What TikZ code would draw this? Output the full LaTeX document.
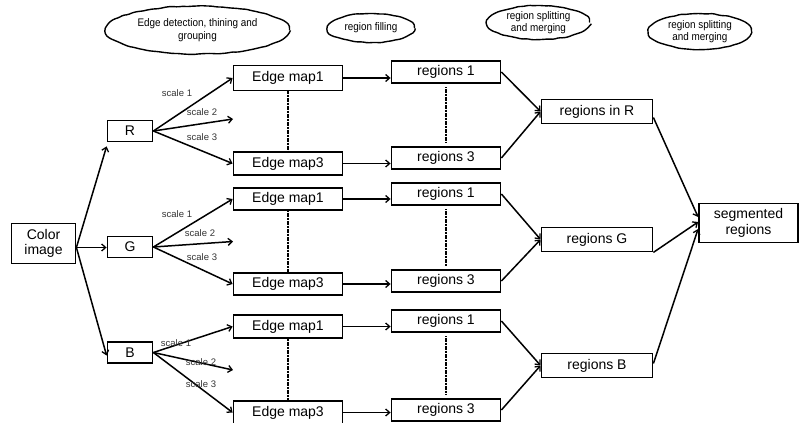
\documentclass[tikz,border=0pt]{standalone}
\usepackage{fontspec}
\setmainfont{Liberation Sans}
\newfontfamily\narrowfont[FakeStretch=0.9]{Liberation Sans}
\usetikzlibrary{arrows.meta,shapes.geometric,decorations.pathmorphing}
\pgfmathsetseed{7}
\begin{document}
\begin{tikzpicture}[x=1pt,y=-1pt,
  box/.style={draw,line width=1.8pt,inner sep=0pt,align=center,
    font=\fontsize{14}{15.5}\selectfont,minimum height=22.5pt},
  wbox/.style={box,minimum width=109pt},
  sbox/.style={box,minimum width=45pt,minimum height=21pt},
  cloudnode/.style={ellipse,draw,line width=1.4pt,inner sep=0pt,align=center,
    font=\narrowfont\fontsize{11}{12.5}\selectfont,
    decorate,decoration={random steps,segment length=5pt,amplitude=0.5pt},rounded corners=1.5pt},
  lab/.style={font=\fontsize{9.5}{10}\selectfont,text=black!80,inner sep=0pt},
  arr/.style={line width=1.5pt,-{Straight Barb[length=4pt,width=7pt,line width=1.3pt]}},
  dots/.style={line width=1.5pt,dash pattern=on 1.2pt off 0.4pt}
]
\useasboundingbox (0,0) rectangle (801,423);

% clouds
\node[cloudnode,minimum width=184pt,minimum height=48pt] (c1) at (197.5,30) {Edge detection, thining and\\grouping};
\node[cloudnode,minimum width=87pt,minimum height=29pt] (c2) at (371,28) {region filling};
\node[cloudnode,minimum width=102pt,minimum height=34pt] (c3) at (538.5,22.5) {region splitting\\and merging};
\node[cloudnode,minimum width=103pt,minimum height=36pt] (c4) at (700,31.5) {region splitting\\and merging};

% input
\node[box,minimum width=64pt,minimum height=40pt] (ci) at (43.5,243.5) {Color\\image};
\node[sbox] (R) at (130,131) {R};
\node[sbox] (G) at (130,247) {G};
\node[sbox] (B) at (130,352.5) {B};

% edge maps
\node[wbox,minimum height=25pt] (e1R) at (288,78) {Edge map1};
\node[wbox] (e3R) at (288,163.5) {Edge map3};
\node[wbox] (e1G) at (288,199) {Edge map1};
\node[wbox] (e3G) at (288,284) {Edge map3};
\node[wbox] (e1B) at (288,326.5) {Edge map1};
\node[wbox] (e3B) at (288,412.5) {Edge map3};

% regions
\node[wbox] (r1R) at (446,72) {regions 1};
\node[wbox] (r3R) at (446,158) {regions 3};
\node[wbox] (r1G) at (446,194) {regions 1};
\node[wbox] (r3G) at (446,281) {regions 3};
\node[wbox] (r1B) at (446,321) {regions 1};
\node[wbox] (r3B) at (446,410) {regions 3};

% merged
\node[box,minimum width=111pt,minimum height=24pt] (mR) at (597,111.5) {regions in R};
\node[box,minimum width=111pt,minimum height=24pt] (mG) at (597,239.5) {regions G};
\node[box,minimum width=111pt,minimum height=24pt] (mB) at (597,365.5) {regions B};
\node[box,minimum width=99pt,minimum height=39pt] (seg) at (748.5,223) {segmented\\regions};

% free ends of scale 2
\coordinate (s2R) at (233,119);
\coordinate (s2G) at (233,241.5);
\coordinate (s2B) at (233,370);

% color image to channels
\draw[arr] ([yshift=-4pt]ci.east) -- ([yshift=-4pt]R.south west);
\draw[arr] ([yshift=-4pt]ci.east) -- ([yshift=-4pt]ci.east -| G.west);
\draw[arr] ([yshift=-4pt]ci.east) -- ([yshift=-3pt]B.west);

% scales
\foreach \c in {R,G,B}{
  \draw[arr] (\c.east) -- (e1\c.west);
  \draw[arr] (\c.east) -- (s2\c);
  \draw[arr] (\c.east) -- (e3\c.west);
}
\node[lab] (l1R) at (177,93) {scale 1};
\node[lab] (l2R) at (202,112) {scale 2};
\node[lab] (l3R) at (202,137) {scale 3};
\node[lab] (l1G) at (177,214) {scale 1};
\node[lab] (l2G) at (200,233) {scale 2};
\node[lab] (l3G) at (202,257) {scale 3};
\node[lab] (l1B) at (176,343) {scale 1};
\node[lab] (l2B) at (201,362) {scale 2};
\node[lab] (l3B) at (201,384) {scale 3};

% edge map to regions
\foreach \c in {R,G,B}{
  \draw[arr] (e1\c.east) -- (e1\c.east -| r1\c.west);
  \draw[arr] (e3\c.east) -- (e3\c.east -| r3\c.west);
  \draw[dots] (e1\c.south) -- (e3\c.north);
  \draw[dots] ([yshift=-3pt]r1\c.south) -- ([yshift=3pt]r3\c.north);
  \draw[arr] (r1\c.east) -- (m\c.west);
  \draw[arr] (r3\c.east) -- (m\c.west);
}

% to segmented
\draw[arr] ([yshift=-6pt]mR.east) -- ([yshift=6pt]seg.west);
\draw[arr] (mG.south east) -- ([yshift=1pt]seg.west);
\draw[arr] ([yshift=2pt]mB.east) -- ([yshift=-6pt]seg.west);
\end{tikzpicture}
\end{document}
